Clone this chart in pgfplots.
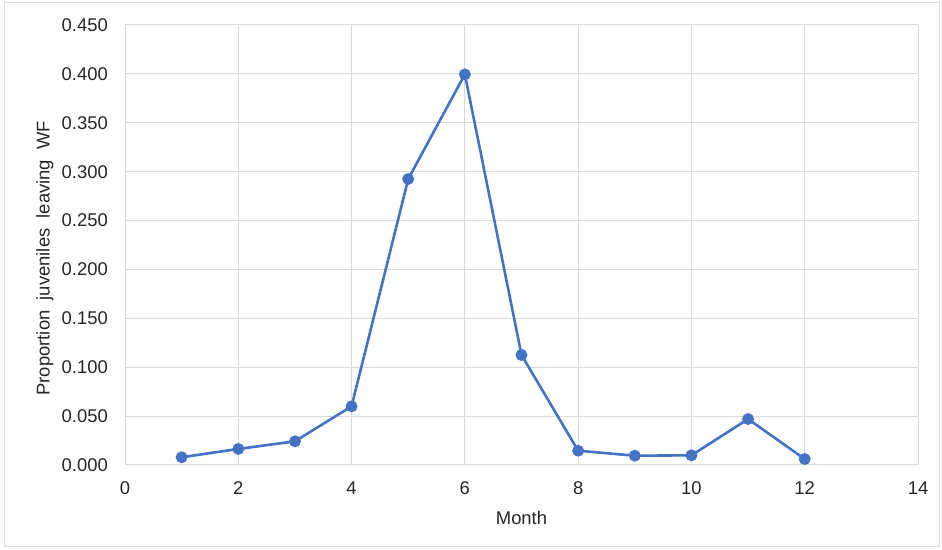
\documentclass[border=0pt]{standalone}
\usepackage{fontspec}
\setmainfont{Liberation Sans}
\usepackage{pgfplots}
\pgfplotsset{compat=1.18}
\definecolor{series}{HTML}{4472C4}
\definecolor{gridgray}{HTML}{D9D9D9}
\definecolor{framegray}{HTML}{DADADA}
\begin{document}
\begin{tikzpicture}[x=1bp,y=1bp]
\path[use as bounding box] (0,0) rectangle (942,550);
\draw[framegray, line width=1bp] (4,3) rectangle (939,547);
\begin{axis}[
    at={(125bp,85bp)}, anchor=south west,
    scale only axis,
    width=793bp, height=440bp,
    xmin=0, xmax=14,
    ymin=0, ymax=0.45,
    xtick={0,2,4,6,8,10,12,14},
    ytick={0,0.05,0.1,0.15,0.2,0.25,0.3,0.35,0.4,0.45},
    grid=major,
    major grid style={gridgray, line width=1bp},
    axis line style={gridgray, line width=1bp},
    major tick length=0pt,
    tick label style={font=\fontsize{18.5}{21}\selectfont, text=black!85},
    /pgf/number format/assume math mode=true,
    yticklabel style={/pgf/number format/fixed, /pgf/number format/fixed zerofill,
        /pgf/number format/precision=3, anchor=east, inner sep=0pt, xshift=-17bp},
    xticklabel style={anchor=center, inner sep=0pt, yshift=-23bp},
    xlabel={Month},
    ylabel={Proportion\ \ juveniles\ \ leaving\ \ WF},
    label style={font=\fontsize{18.5}{21}\selectfont, text=black!85},
    xlabel style={at={(axis description cs:0.5,-0.12)}, anchor=center},
    ylabel style={at={(axis description cs:-0.101,0.47)}, anchor=center, rotate=0},
]
\addplot[series, line width=2.6bp, mark=*, mark size=4.6bp, mark options={fill=series, draw=series}] coordinates {
    (1, 0.0079) (2, 0.0164) (3, 0.0242) (4, 0.0600)
    (5, 0.2925) (6, 0.3995) (7, 0.1125) (8, 0.0146)
    (9, 0.0095) (10, 0.0099) (11, 0.0470) (12, 0.0061)
};
\end{axis}
\end{tikzpicture}
\end{document}
